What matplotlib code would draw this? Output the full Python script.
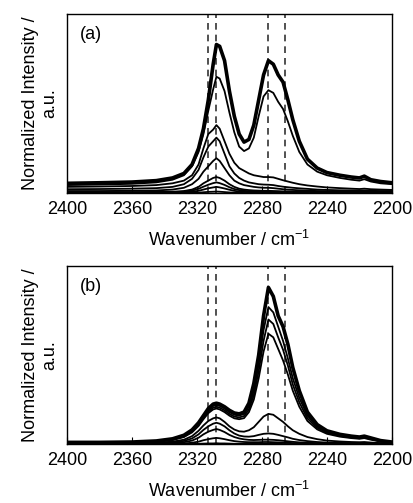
import matplotlib
matplotlib.use("Agg")
import matplotlib.pyplot as plt

plt.rcParams['font.family'] = ['Liberation Sans', 'DejaVu Sans']
plt.rcParams['mathtext.fontset'] = 'custom'
plt.rcParams['mathtext.rm'] = 'Liberation Sans'
plt.rcParams['mathtext.it'] = 'Liberation Sans'

# wavenumber grid (cm-1) shared by all spectra
wn = [2400, 2380, 2360, 2345, 2335, 2328, 2323, 2319, 2316, 2313, 2310, 2308, 2306,
      2303, 2300, 2297, 2294, 2291, 2288, 2285, 2282, 2279, 2276, 2273, 2270, 2267,
      2264, 2261, 2257, 2252, 2246, 2240, 2232, 2225, 2220, 2217, 2213, 2207, 2200]

# panel (a) spectra, top to bottom
a1 = [.055, .058, .062, .070, .085, .110, .160, .250, .360, .520, .720, .830, .820,
      .740, .570, .430, .330, .285, .300, .380, .520, .660, .740, .720, .660, .620,
      .520, .410, .290, .190, .140, .115, .100, .090, .085, .095, .075, .065, .058]
a2 = [.045, .048, .052, .060, .075, .100, .150, .230, .330, .460, .580, .650, .640,
      .570, .450, .340, .260, .235, .250, .310, .430, .540, .575, .560, .510, .470,
      .400, .320, .230, .160, .120, .100, .085, .075, .070, .078, .065, .055, .050]
a3 = [.035, .037, .040, .045, .055, .070, .100, .160, .250, .330, .355, .380, .360,
      .290, .220, .170, .140, .125, .110, .100, .095, .090, .090, .088, .080, .072,
      .065, .058, .050, .043, .037, .032, .028, .025, .023, .025, .022, .020, .018]
a4 = [.022, .023, .025, .028, .035, .050, .080, .130, .200, .260, .290, .310, .290,
      .220, .150, .110, .085, .070, .060, .055, .050, .048, .047, .045, .040, .036,
      .033, .030, .027, .024, .020, .018, .016, .015, .014, .015, .013, .012, .012]
a5 = [.012, .012, .013, .015, .020, .030, .050, .080, .120, .150, .180, .195, .180,
      .140, .100, .070, .055, .045, .040, .035, .032, .030, .030, .028, .025, .022,
      .020, .018, .016, .014, .012, .011, .010, .010, .009, .010, .009, .008, .008]
a6 = [.006, .006, .006, .007, .008, .012, .020, .035, .055, .070, .085, .090, .085,
      .070, .050, .035, .025, .020, .017, .015, .014, .013, .013, .012, .011, .010,
      .010, .009, .009, .008, .008, .008, .008, .008, .008, .008, .008, .008, .008]
a7 = [.003, .003, .003, .004, .005, .008, .014, .024, .036, .047, .056, .060, .056,
      .046, .033, .023, .017, .013, .011, .010, .009, .009, .009, .008, .008, .007,
      .007, .006, .006, .006, .005, .005, .005, .005, .005, .005, .005, .005, .005]
a8 = [.001, .001, .001, .002, .003, .005, .008, .013, .020, .027, .032, .035, .032,
      .026, .019, .013, .009, .007, .006, .005, .005, .005, .005, .004, .004, .004,
      .003, .003, .003, .003, .003, .003, .003, .003, .003, .003, .003, .003, .003]
a9 = [.000, .000, .000, .000, .000, .001, .002, .003, .005, .007, .008, .009, .008,
      .006, .004, .003, .002, .001, .001, .001, .001, .001, .001, .001, .001, .001,
      .000, .000, .000, .000, .000, .000, .000, .000, .000, .000, .000, .000, .000]

# panel (b) spectra, top to bottom
b1 = [.010, .010, .012, .018, .030, .050, .080, .120, .160, .200, .225, .230, .225,
      .210, .190, .175, .170, .180, .230, .340, .500, .720, .880, .830, .720, .660,
      .560, .430, .300, .180, .110, .075, .055, .045, .040, .045, .035, .020, .012]
b2 = [.008, .009, .011, .016, .027, .045, .075, .115, .155, .190, .215, .220, .215,
      .200, .180, .165, .160, .170, .210, .300, .450, .640, .770, .740, .660, .580,
      .480, .370, .260, .160, .100, .070, .050, .040, .036, .040, .030, .018, .010]
b3 = [.007, .008, .010, .015, .025, .042, .070, .108, .148, .182, .205, .210, .205,
      .190, .170, .155, .150, .158, .195, .275, .410, .580, .700, .675, .600, .530,
      .440, .335, .235, .145, .092, .064, .046, .037, .033, .037, .028, .016, .009]
b4 = [.006, .007, .009, .014, .023, .040, .066, .102, .140, .174, .195, .200, .195,
      .180, .160, .145, .140, .146, .180, .250, .370, .520, .620, .600, .535, .470,
      .390, .300, .210, .130, .083, .058, .042, .034, .030, .034, .025, .015, .008]
b5 = [.004, .004, .005, .008, .014, .025, .045, .075, .105, .130, .145, .150, .145,
      .125, .100, .082, .072, .070, .078, .095, .125, .155, .170, .165, .145, .125,
      .100, .078, .058, .040, .028, .020, .015, .012, .011, .012, .009, .006, .004]
b6 = [.003, .003, .004, .006, .010, .018, .032, .055, .080, .100, .115, .120, .115,
      .100, .078, .060, .048, .043, .042, .045, .052, .058, .060, .058, .052, .045,
      .038, .030, .023, .017, .012, .009, .007, .006, .006, .006, .005, .004, .003]
b7 = [.002, .002, .002, .003, .006, .011, .020, .036, .055, .070, .080, .085, .080,
      .068, .052, .040, .032, .027, .024, .023, .024, .025, .025, .024, .022, .019,
      .016, .013, .010, .008, .006, .005, .004, .004, .004, .004, .003, .003, .002]
b8 = [.001, .001, .001, .001, .002, .004, .008, .014, .022, .028, .033, .035, .033,
      .028, .022, .017, .014, .012, .011, .011, .011, .012, .012, .011, .010, .009,
      .008, .006, .005, .004, .003, .002, .002, .002, .002, .002, .002, .001, .001]
b9 = [.000, .000, .000, .000, .000, .001, .001, .002, .003, .004, .004, .005, .004,
      .004, .003, .002, .002, .002, .002, .002, .002, .002, .002, .002, .002, .001,
      .001, .001, .001, .000, .000, .000, .000, .000, .000, .000, .000, .000, .000]

# dashed guide lines
guides = [2313, 2308, 2276, 2266]
xticks = [2400, 2360, 2320, 2280, 2240, 2200]

fig = plt.figure(figsize=(4.13, 5.03), dpi=100)
axa = fig.add_axes([0.162, 0.616, 0.787, 0.356])
axb = fig.add_axes([0.162, 0.117, 0.787, 0.354])

panels = [(axa, [a1, a2, a3, a4, a5, a6, a7, a8, a9], "(a)"),
          (axb, [b1, b2, b3, b4, b5, b6, b7, b8, b9], "(b)")]

for ax, curves, tag in panels:
    for i, c in enumerate(curves):
        ax.plot(wn, c, color="black", lw=2.6 if i == 0 else 1.3, zorder=3)
    for g in guides:
        ax.axvline(g, color="#333333", lw=1.2, dashes=(4, 3), zorder=2)
    ax.set_xlim(2400, 2200)
    ax.set_ylim(0, 1)
    ax.set_xticks(xticks)
    ax.set_yticks([])
    ax.tick_params(axis="x", direction="in", length=5, width=0.8, labelsize=13, pad=6)
    ax.set_xlabel("Wavenumber / cm$^{-1}$", fontsize=13, labelpad=8)
    ax.set_ylabel("Normalized Intensity /\na.u.", fontsize=13, labelpad=6)
    ax.text(0.04, 0.86, tag, transform=ax.transAxes, fontsize=13)
    for s in ax.spines.values():
        s.set_linewidth(1.0)

fig.savefig("out.png", dpi=100)
